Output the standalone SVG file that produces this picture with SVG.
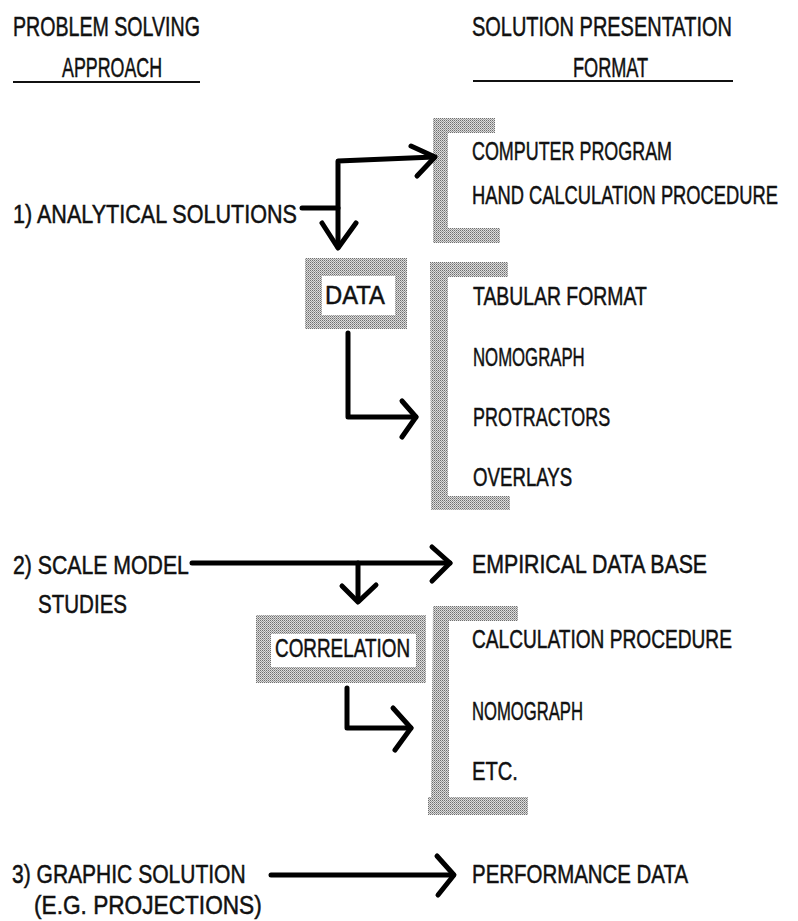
<svg xmlns="http://www.w3.org/2000/svg" width="798" height="921" viewBox="0 0 798 921">
  <style>
    text { font-family: "Liberation Sans", Arial, sans-serif; font-size: 26px; fill: #111; stroke: #111; stroke-width: 0.5; }
    .hd { font-size: 28px; }
    .rule { stroke: #111; stroke-width: 2.2; fill: none; }
    .wire { stroke: #000; stroke-width: 5; fill: none; stroke-linecap: round; stroke-linejoin: round; }
    .shade { fill: url(#stipple); }
  </style>
  <defs>
    <!-- halftone grey used for frames and brackets -->
    <pattern id="stipple" width="2" height="2" patternUnits="userSpaceOnUse">
      <rect width="2" height="2" fill="#dcdcdc"/>
      <rect x="0" y="0" width="1" height="1" fill="#6e6e6e"/>
      <rect x="1" y="1" width="1" height="1" fill="#9a9a9a"/>
    </pattern>
  </defs>

  <!-- labels use a narrowed sans: each text is scaled to 0.73 horizontally -->

  <!-- column headings -->
  <g id="heading-left">
    <text class="hd" transform="matrix(0.73 0 0 1 13 36)" textLength="256" lengthAdjust="spacingAndGlyphs">PROBLEM SOLVING</text>
    <text class="hd" transform="matrix(0.73 0 0 1 62 77)" textLength="137" lengthAdjust="spacingAndGlyphs">APPROACH</text>
    <line class="rule" x1="13" y1="82" x2="200" y2="82"/>
  </g>
  <g id="heading-right">
    <text class="hd" transform="matrix(0.73 0 0 1 472 36)" textLength="356" lengthAdjust="spacingAndGlyphs">SOLUTION PRESENTATION</text>
    <text class="hd" transform="matrix(0.73 0 0 1 573 77)" textLength="103" lengthAdjust="spacingAndGlyphs">FORMAT</text>
    <line class="rule" x1="473" y1="81" x2="733" y2="81"/>
  </g>

  <!-- approaches -->
  <g id="analytical">
    <text transform="matrix(0.73 0 0 1 13 223)" textLength="389" lengthAdjust="spacingAndGlyphs">1) ANALYTICAL SOLUTIONS</text>
  </g>
  <g id="scale-model">
    <text transform="matrix(0.73 0 0 1 13 574)" textLength="241" lengthAdjust="spacingAndGlyphs">2) SCALE MODEL</text>
    <text transform="matrix(0.73 0 0 1 38 613)" textLength="122" lengthAdjust="spacingAndGlyphs">STUDIES</text>
  </g>
  <g id="graphic">
    <text transform="matrix(0.73 0 0 1 12 883)" textLength="320" lengthAdjust="spacingAndGlyphs">3) GRAPHIC SOLUTION</text>
    <text transform="matrix(0.73 0 0 1 34 914)" textLength="312" lengthAdjust="spacingAndGlyphs">(E.G. PROJECTIONS)</text>
  </g>

  <!-- intermediate boxes -->
  <g id="data">
    <path class="shade" fill-rule="evenodd" d="M305 258H407V329H305Z M322 276V315H395V276Z"/>
    <text transform="matrix(0.73 0 0 1 325 304)" textLength="82" lengthAdjust="spacingAndGlyphs">DATA</text>
  </g>
  <g id="correlation">
    <path class="shade" fill-rule="evenodd" d="M256 615H426V683H256Z M271 634V667H416V634Z"/>
    <text transform="matrix(0.73 0 0 1 275 657)" textLength="185" lengthAdjust="spacingAndGlyphs">CORRELATION</text>
  </g>

  <!-- presentation formats, grouped by brackets -->
  <g id="formats-program">
    <path class="shade" d="M433 118H495V133H448V228H500V243H433Z"/>
    <text transform="matrix(0.73 0 0 1 472 160)" textLength="274" lengthAdjust="spacingAndGlyphs">COMPUTER PROGRAM</text>
    <text transform="matrix(0.73 0 0 1 472 204)" textLength="419" lengthAdjust="spacingAndGlyphs">HAND CALCULATION PROCEDURE</text>
  </g>
  <g id="formats-data">
    <path class="shade" d="M430 262H508V277H448V496H510V510H431Z"/>
    <text transform="matrix(0.73 0 0 1 473 305)" textLength="238" lengthAdjust="spacingAndGlyphs">TABULAR FORMAT</text>
    <text transform="matrix(0.73 0 0 1 473 366)" textLength="153" lengthAdjust="spacingAndGlyphs">NOMOGRAPH</text>
    <text transform="matrix(0.73 0 0 1 473 426)" textLength="188" lengthAdjust="spacingAndGlyphs">PROTRACTORS</text>
    <text transform="matrix(0.73 0 0 1 473 486)" textLength="136" lengthAdjust="spacingAndGlyphs">OVERLAYS</text>
  </g>
  <g id="empirical">
    <text transform="matrix(0.73 0 0 1 472 573)" textLength="322" lengthAdjust="spacingAndGlyphs">EMPIRICAL DATA BASE</text>
  </g>
  <g id="formats-correlation">
    <path class="shade" d="M433 606H518V621H449V797H528V815H428V797H431Z"/>
    <text transform="matrix(0.73 0 0 1 472 648)" textLength="356" lengthAdjust="spacingAndGlyphs">CALCULATION PROCEDURE</text>
    <text transform="matrix(0.73 0 0 1 472 720)" textLength="152" lengthAdjust="spacingAndGlyphs">NOMOGRAPH</text>
    <text transform="matrix(0.73 0 0 1 472 780)" textLength="63" lengthAdjust="spacingAndGlyphs">ETC.</text>
  </g>
  <g id="performance">
    <text transform="matrix(0.73 0 0 1 472 883)" textLength="296" lengthAdjust="spacingAndGlyphs">PERFORMANCE DATA</text>
  </g>

  <!-- connectors -->
  <g id="connectors">
    <path class="wire" d="M302 208H338"/>
    <path class="wire" d="M338 247V161L434 157"/>
    <path class="wire" d="M411 146L435 157L417 176"/>
    <path class="wire" d="M322 223L338 248L356 223"/>

    <path class="wire" d="M348 333V417H416"/>
    <path class="wire" d="M402 401L416 417L402 437"/>

    <path class="wire" d="M192 563H450"/>
    <path class="wire" d="M432 547L450 563L432 581"/>
    <path class="wire" d="M358 563V601"/>
    <path class="wire" d="M342 586L358 602L376 585"/>

    <path class="wire" d="M347 688V728H411"/>
    <path class="wire" d="M393 708L411 728L395 750"/>

    <path class="wire" d="M271 875H453"/>
    <path class="wire" d="M437 856L454 875L438 895"/>
  </g>
</svg>
